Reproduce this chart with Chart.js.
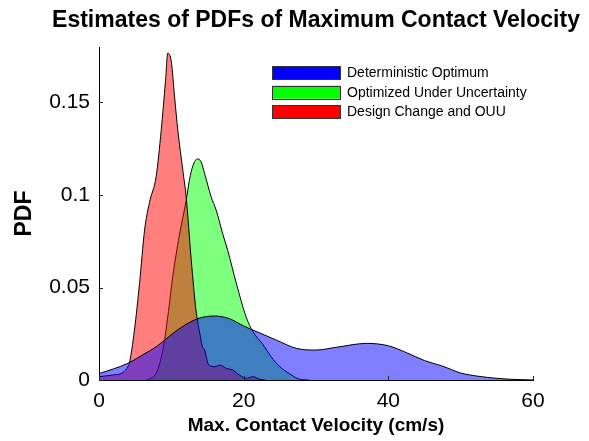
<!DOCTYPE html>
<html>
<head>
<meta charset="utf-8">
<title>Estimates of PDFs of Maximum Contact Velocity</title>
<script src="https://cdn.jsdelivr.net/npm/chart.js@4.4.1/dist/chart.umd.min.js"></script>
<style>
    html, body { margin: 0; padding: 0; background: #ffffff; }
    #chartWrap { width: 589px; height: 441px; }
</style>
</head>
<body>
<div id="chartWrap"><canvas id="pdfChart" width="589" height="441"></canvas></div>
<script>
// Series names (legend order)
const seriesNames = ['Deterministic Optimum', 'Optimized Under Uncertainty', 'Design Change and OUU'];

// Deterministic Optimum (blue)
const velDet = [0, 2, 4, 6, 8, 10, 12, 14, 16, 18, 20, 22, 24.5, 27.3, 30, 33, 37, 40, 42.5, 45, 47.5, 50, 52.5, 55, 57.5, 60];
const pdfDet = [0.0035, 0.006, 0.009, 0.0135, 0.0182, 0.0245, 0.030, 0.0336, 0.0346, 0.0332, 0.0292, 0.0258, 0.0216, 0.0171, 0.0162, 0.0178, 0.0198, 0.0185, 0.0148, 0.0105, 0.0075, 0.0038, 0.002, 0.0009, 0.0003, 0];

// Optimized Under Uncertainty (green)
const velOuu = [6.5, 7.2, 7.8, 8.4, 9.0, 9.6, 10.2, 11.1, 12.05, 12.5, 13.0, 13.6, 14.1, 14.6, 15.5, 16.2, 17.1, 17.8, 19.0, 20.35, 21.3, 22.6, 23.8, 25.0, 26.3, 27.7, 29];
const pdfOuu = [0, 0.001, 0.003, 0.009, 0.020, 0.037, 0.056, 0.078, 0.097, 0.108, 0.116, 0.1195, 0.118, 0.1116, 0.099, 0.0918, 0.079, 0.070, 0.052, 0.034, 0.026, 0.0195, 0.0126, 0.0072, 0.0035, 0.0005, 0];

// Design Change and OUU (red)
const velDc = [0, 1.9, 3.3, 4.0, 4.2, 4.9, 5.6, 6.3, 6.98, 7.9, 8.6, 9.2, 9.5, 10.0, 10.45, 10.9, 11.6, 12.05, 12.75, 13.4, 13.9, 14.3, 14.6, 15.05, 15.5, 16.0, 16.7, 17.6, 18.5, 19.4, 20.35, 21.3, 22.2, 23.0];
const pdfDc = [0.0018, 0.0027, 0.004, 0.0072, 0.009, 0.027, 0.052, 0.081, 0.096, 0.110, 0.135, 0.162, 0.1767, 0.172, 0.153, 0.135, 0.113, 0.099, 0.065, 0.038, 0.026, 0.018, 0.0162, 0.009, 0.0075, 0.0072, 0.0081, 0.0063, 0.0054, 0.0027, 0.0009, 0.0018, 0.0004, 0];

// Axis ticks
const xTicks = [0, 20, 40, 60];
const yTicks = [0, 0.05, 0.1, 0.15];

const fillColors = ['rgba(0,0,255,0.5)', 'rgba(0,255,0,0.5)', 'rgba(255,0,0,0.5)'];
const keyColors = ['#0000ff', '#00ff00', '#ff0000'];
const FONT = "'Liberation Sans', Arial, Helvetica, sans-serif";

function toPoints(xs, ys) {
    return xs.map((x, i) => ({ x: x, y: ys[i] }));
}

// Title centred over the plot area, like the original figure
const plotTitle = {
    id: 'plotTitle',
    afterDraw(chart) {
        const ctx = chart.ctx;
        const area = chart.chartArea;
        ctx.save();
        ctx.font = 'bold 23px ' + FONT;
        ctx.fillStyle = '#000';
        ctx.textAlign = 'center';
        ctx.textBaseline = 'middle';
        ctx.fillText('Estimates of PDFs of Maximum Contact Velocity', (area.left + area.right) / 2, 21);
        ctx.restore();
    }
};

// Small inward tick marks
const innerTicks = {
    id: 'innerTicks',
    afterDatasetsDraw(chart) {
        const ctx = chart.ctx;
        const xs = chart.scales.x;
        const ys = chart.scales.y;
        ctx.save();
        ctx.strokeStyle = '#222';
        ctx.lineWidth = 1;
        ctx.beginPath();
        xTicks.forEach(v => {
            const px = Math.round(xs.getPixelForValue(v)) + 0.5;
            ctx.moveTo(px, ys.bottom);
            ctx.lineTo(px, ys.bottom - 4);
        });
        yTicks.forEach(v => {
            const py = Math.round(ys.getPixelForValue(v)) + 0.5;
            ctx.moveTo(xs.left, py);
            ctx.lineTo(xs.left + 4, py);
        });
        ctx.stroke();
        ctx.restore();
    }
};

// Legend drawn inside the axes, top right
const boxLegend = {
    id: 'boxLegend',
    afterDraw(chart) {
        const ctx = chart.ctx;
        const area = chart.chartArea;
        const boxX = area.right - 261;
        const boxW = 68, boxH = 13;
        ctx.save();
        ctx.font = '14px ' + FONT;
        ctx.textAlign = 'left';
        ctx.textBaseline = 'middle';
        seriesNames.forEach((name, i) => {
            const cy = area.top + 25.5 + i * 19.7;
            ctx.fillStyle = keyColors[i];
            ctx.fillRect(boxX, cy - boxH / 2, boxW, boxH);
            ctx.strokeStyle = '#333';
            ctx.lineWidth = 1;
            ctx.strokeRect(Math.round(boxX) + 0.5, Math.round(cy - boxH / 2) + 0.5, boxW, boxH);
            ctx.fillStyle = '#000';
            ctx.fillText(name, boxX + boxW + 7, cy + 0.5);
        });
        ctx.restore();
    }
};

const ctx = document.getElementById('pdfChart').getContext('2d');
const chart = new Chart(ctx, {
    type: 'line',
    data: {
        datasets: [
            {
                label: seriesNames[0],
                data: toPoints(velDet, pdfDet),
                backgroundColor: fillColors[0],
                borderColor: '#000',
                borderWidth: 1,
                fill: 'origin',
                order: 0
            },
            {
                label: seriesNames[1],
                data: toPoints(velOuu, pdfOuu),
                backgroundColor: fillColors[1],
                borderColor: '#000',
                borderWidth: 1,
                fill: 'origin',
                order: 2
            },
            {
                label: seriesNames[2],
                data: toPoints(velDc, pdfDc),
                backgroundColor: fillColors[2],
                borderColor: '#000',
                borderWidth: 1,
                fill: 'origin',
                order: 1
            }
        ]
    },
    options: {
        responsive: false,
        animation: false,
        devicePixelRatio: 1,
        layout: {
            padding: { top: 47, right: 56, left: 0, bottom: 0 }
        },
        elements: {
            point: { radius: 0, hoverRadius: 0 },
            line: { cubicInterpolationMode: 'monotone' }
        },
        plugins: {
            legend: { display: false },
            title: { display: false },
            tooltip: { enabled: false }
        },
        scales: {
            x: {
                type: 'linear',
                min: 0,
                max: 60,
                afterBuildTicks: scale => { scale.ticks = xTicks.map(v => ({ value: v })); },
                afterFit: scale => { scale.height = 61; },
                grid: { display: false, drawTicks: false },
                border: { display: true, color: '#000', width: 1 },
                ticks: {
                    color: '#000',
                    font: { family: FONT, size: 21 },
                    padding: 9,
                    maxRotation: 0
                },
                title: {
                    display: true,
                    text: 'Max. Contact Velocity (cm/s)',
                    color: '#000',
                    font: { family: FONT, size: 19, weight: 'bold' },
                    padding: { top: 0, bottom: 4 }
                }
            },
            y: {
                type: 'linear',
                min: 0,
                max: 0.18,
                afterBuildTicks: scale => { scale.ticks = yTicks.map(v => ({ value: v })); },
                afterFit: scale => { scale.width = 99; },
                grid: { display: false, drawTicks: false },
                border: { display: true, color: '#000', width: 1 },
                ticks: {
                    color: '#000',
                    font: { family: FONT, size: 21 },
                    padding: 9,
                    callback: v => String(v)
                },
                title: {
                    display: true,
                    text: 'PDF',
                    color: '#000',
                    font: { family: FONT, size: 23, weight: 'bold' },
                    padding: { top: 11, bottom: 0 }
                }
            }
        }
    },
    plugins: [plotTitle, innerTicks, boxLegend]
});
</script>
</body>
</html>
